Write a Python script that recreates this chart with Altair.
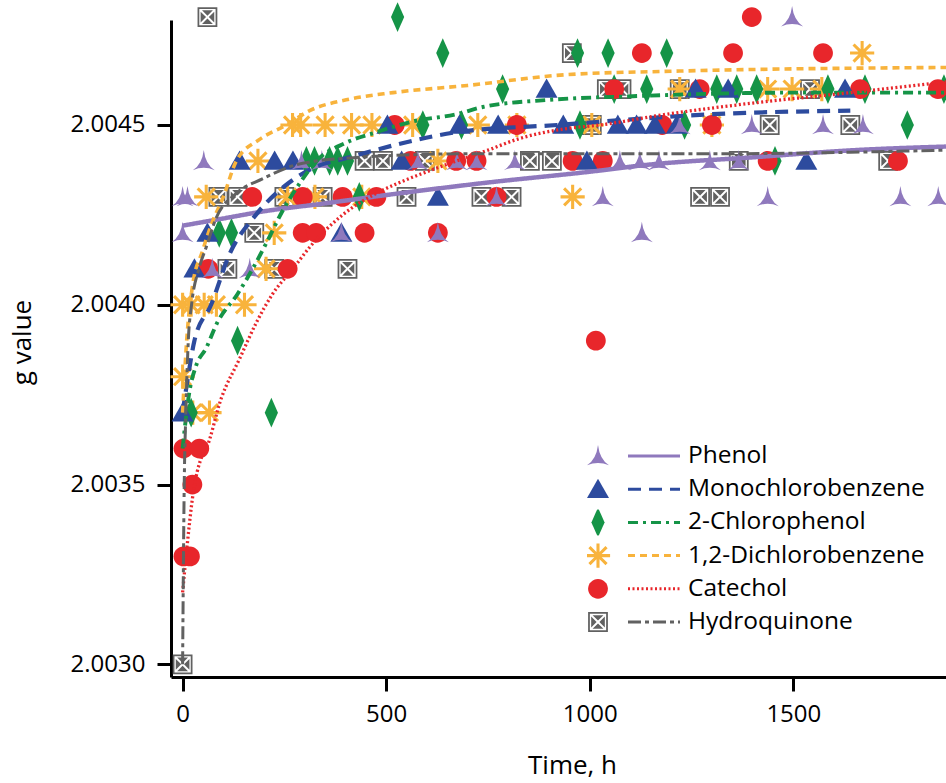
import math
import altair as alt
import pandas as pd

SERIES = ["Phenol", "Monochlorobenzene", "2-Chlorophenol", "1,2-Dichlorobenzene", "Catechol", "Hydroquinone"]
COLORS = ["#8F79BD", "#2D4B9E", "#159447", "#F8B33C", "#E8262B", "#616161"]

# ---- measured points ----
phenol_t = [0, 0, 12, 52, 73, 165, 292, 342, 390, 578, 627, 674, 722, 771, 816, 1032, 1074, 1123, 1128, 1170,
            1221, 1295, 1366, 1398, 1437, 1497, 1573, 1671, 1763, 1856]
phenol_g = [2.0042, 2.0043, 2.0043, 2.0044, 2.0041, 2.0041, 2.0044, 2.0044, 2.0042, 2.0044, 2.0042, 2.0044,
            2.0044, 2.0043, 2.0044, 2.0043, 2.0044, 2.0044, 2.0042, 2.0044, 2.0045, 2.0044, 2.0044, 2.0045,
            2.0043, 2.0048, 2.0045, 2.0045, 2.0043, 2.0043]

mono_t = [0, 29, 61, 140, 226, 271, 390, 503, 538, 627, 680, 775, 894, 935, 993, 1069, 1115, 1160, 1214,
          1260, 1340, 1532, 1627]
mono_g = [2.0037, 2.0041, 2.0042, 2.0044, 2.0044, 2.0044, 2.0042, 2.0045, 2.0044, 2.0043, 2.0045, 2.0045,
          2.0046, 2.0045, 2.0044, 2.0045, 2.0045, 2.0045, 2.0045, 2.0046, 2.0046, 2.0044, 2.0046]

chloro_t = [21, 90, 120, 135, 218, 304, 324, 361, 381, 405, 434, 528, 590, 639, 685, 786, 970, 976, 1045,
            1060, 1140, 1189, 1233, 1312, 1361, 1410, 1455, 1585, 1676, 1780, 1870]
chloro_g = [2.0037, 2.0042, 2.0042, 2.0039, 2.0037, 2.0044, 2.0044, 2.0044, 2.0044, 2.0044, 2.0043, 2.0048,
            2.0045, 2.0047, 2.0045, 2.0046, 2.0047, 2.0045, 2.0047, 2.0046, 2.0046, 2.0047, 2.0045, 2.0046,
            2.0046, 2.0046, 2.0044, 2.0046, 2.0046, 2.0045, 2.0046]

dcb_t = [0, 0, 21, 25, 53, 66, 83, 152, 58, 185, 205, 225, 258, 270, 290, 350, 415, 465, 565, 325, 440,
         627, 725, 821, 958, 1005, 1221, 1300, 1437, 1497, 1570, 1669]
dcb_g = [2.0038, 2.0040, 2.0040, 2.0037, 2.0040, 2.0037, 2.0040, 2.0040, 2.0043, 2.0044, 2.0041, 2.0042,
         2.0043, 2.0045, 2.0045, 2.0045, 2.0045, 2.0045, 2.0045, 2.0043, 2.0043, 2.0044, 2.0045, 2.0045,
         2.0043, 2.0045, 2.0046, 2.0045, 2.0046, 2.0046, 2.0046, 2.0047]

catechol_t = [2, 41, 24, 2, 18, 63, 171, 258, 295, 328, 295, 393, 447, 476, 521, 560, 627, 672, 722, 771,
              821, 958, 1015, 1032, 1060, 1128, 1178, 1270, 1300, 1352, 1398, 1437, 1573, 1664, 1757, 1855]
catechol_g = [2.0036, 2.0036, 2.0035, 2.0033, 2.0033, 2.0041, 2.0043, 2.0041, 2.0042, 2.0042, 2.0043, 2.0043,
              2.0042, 2.0043, 2.0045, 2.0044, 2.0042, 2.0044, 2.0044, 2.0043, 2.0045, 2.0044, 2.0039, 2.0044,
              2.0046, 2.0047, 2.0045, 2.0046, 2.0045, 2.0047, 2.0048, 2.0044, 2.0047, 2.0046, 2.0044, 2.0046]

hq_t = [0, 61, 88, 110, 135, 176, 225, 250, 344, 405, 447, 492, 550, 595, 734, 808, 853, 907, 956, 1005,
        1042, 1078, 1221, 1271, 1320, 1366, 1442, 1541, 1640, 1733]
hq_g = [2.0030, 2.0048, 2.0043, 2.0041, 2.0043, 2.0042, 2.0041, 2.0043, 2.0043, 2.0041, 2.0044, 2.0044,
        2.0043, 2.0044, 2.0043, 2.0043, 2.0044, 2.0044, 2.0047, 2.0045, 2.0046, 2.0046, 2.0046, 2.0043,
        2.0043, 2.0044, 2.0045, 2.0046, 2.0045, 2.0044]

# ---- fitted curves ----
phenol_fit_t = [0, 100, 200, 336, 533, 750, 1000, 1148, 1400, 1650, 1875]
phenol_fit_g = [2.00422, 2.00424, 2.00426, 2.00428, 2.00431, 2.00434, 2.00437, 2.00439, 2.00441, 2.00443, 2.00444]

mono_fit_t = [0, 12, 29, 70, 115, 180, 262, 320, 410, 542, 674, 920, 1300, 1640]
mono_fit_g = [2.0037, 2.00379, 2.0039, 2.0040, 2.00414, 2.00425, 2.00434, 2.00438, 2.00441, 2.00445,
              2.00448, 2.0045, 2.00453, 2.00454]

chloro_fit_t = [0, 17, 33, 58, 85, 135, 172, 205, 245, 295, 329, 400, 476, 566, 673, 737, 902, 1106, 1500, 1875]
chloro_fit_g = [2.0036, 2.00376, 2.00383, 2.00388, 2.00395, 2.00403, 2.0041, 2.00417, 2.00426, 2.00435,
                2.0044, 2.00445, 2.00448, 2.00451, 2.00453, 2.00455, 2.00457, 2.00458, 2.00459, 2.00459]

dcb_fit_t = [0, 10, 24, 49, 73, 100, 132, 189, 255, 312, 402, 517, 700, 943, 1221, 1875]
dcb_fit_g = [2.0037, 2.0039, 2.00405, 2.00415, 2.00423, 2.0043, 2.0044, 2.00446, 2.0045, 2.00454, 2.00457,
             2.00459, 2.00461, 2.00464, 2.00465, 2.00466]

catechol_fit_t = [0, 12, 24, 48, 58, 95, 140, 181, 221, 271, 312, 393, 476, 533, 600, 673, 750, 821, 943,
                  1025, 1189, 1393, 1640, 1875]
catechol_fit_g = [2.0032, 2.00334, 2.00346, 2.00358, 2.0036, 2.00374, 2.00385, 2.00395, 2.00403, 2.0041,
                  2.00416, 2.00425, 2.00431, 2.00434, 2.00437, 2.0044, 2.00443, 2.00446, 2.00449, 2.0045,
                  2.00453, 2.00456, 2.00459, 2.00462]

hq_fit_t = [0, 4, 8, 14, 22, 40, 58, 82, 132, 196, 281, 329, 434, 700, 1300, 1875]
hq_fit_g = [2.0030, 2.0035, 2.0037, 2.0039, 2.0040, 2.0041, 2.00416, 2.00424, 2.00431, 2.00435, 2.00439,
            2.0044, 2.00441, 2.00442, 2.00442, 2.00443]

X_TICKS = [0, 500, 1000, 1500]
Y_TICKS = [2.0030, 2.0035, 2.0040, 2.0045]

# ---- marker shapes (paths in unit box) ----
def asterisk(R=1.1, w=0.14):
    pts = []
    ri = w / math.sin(math.pi / 8)
    for k in range(8):
        th = k * math.pi / 4
        dx, dy = math.cos(th), math.sin(th)
        nx, ny = -dy, dx
        pts.append((R * dx - w * nx, R * dy - w * ny))
        pts.append((R * dx + w * nx, R * dy + w * ny))
        b = th + math.pi / 8
        pts.append((ri * math.cos(b), ri * math.sin(b)))
    return "M" + "L".join(f"{x:.3f},{y:.3f}" for x, y in pts) + "Z"

def xbox(o=0.9, h=0.74, e=0.62, g=0.09):
    a = round(g * math.sqrt(2), 3)
    b = round(e - a, 3)
    p = f"M{-o},{-o}L{o},{-o}L{o},{o}L{-o},{o}Z"
    p += f"M{-h},{-h}L{-h},{h}L{h},{h}L{h},{-h}Z"
    p += f"M{-b},{-e}L{b},{-e}L0,{-a}Z"
    p += f"M{e},{-b}L{e},{b}L{a},0Z"
    p += f"M{b},{e}L{-b},{e}L0,{a}Z"
    p += f"M{-e},{b}L{-e},{-b}L{-a},0Z"
    return p

SHAPES = [
    "M0,-1Q0.15,0.3 1,0.85Q0,0.4 -1,0.85Q-0.15,0.3 0,-1Z",
    "M0,-0.95L1,0.8L-1,0.8Z",
    "M0,-1.35L0.6,0L0,1.35L-0.6,0Z",
    asterisk(),
    "M0.9,0A0.9,0.9,0,1,1,-0.9,0A0.9,0.9,0,1,1,0.9,0Z",
    xbox(),
]
DASHES = [[1, 0], [13, 8], [10, 5, 3, 5], [7, 5], [2, 2.5], [13, 4, 4, 4]]
WIDTHS = [4.5, 3, 3, 3, 3, 3]

pt_sets = {
    "Phenol": (phenol_t, phenol_g), "Monochlorobenzene": (mono_t, mono_g),
    "2-Chlorophenol": (chloro_t, chloro_g), "1,2-Dichlorobenzene": (dcb_t, dcb_g),
    "Catechol": (catechol_t, catechol_g), "Hydroquinone": (hq_t, hq_g),
}
fit_sets = {
    "Phenol": (phenol_fit_t, phenol_fit_g), "Monochlorobenzene": (mono_fit_t, mono_fit_g),
    "2-Chlorophenol": (chloro_fit_t, chloro_fit_g), "1,2-Dichlorobenzene": (dcb_fit_t, dcb_fit_g),
    "Catechol": (catechol_fit_t, catechol_fit_g), "Hydroquinone": (hq_fit_t, hq_fit_g),
}
draw_order = ["Hydroquinone", "1,2-Dichlorobenzene", "2-Chlorophenol", "Catechol", "Monochlorobenzene", "Phenol"]
rows = []
for s in draw_order:
    for t, g in zip(*pt_sets[s]):
        rows.append({"series": s, "t": t, "g": g})
pts = pd.DataFrame(rows)
frows = []
for s in SERIES:
    for t, g in zip(*fit_sets[s]):
        frows.append({"series": s, "t": t, "g": g})
fit = pd.DataFrame(frows)

FONT = "Open Sans"
xscale = alt.Scale(domain=[-28.5, 1875], nice=False, zero=False)
yscale = alt.Scale(domain=[2.0029647, 2.004792], nice=False, zero=False)
xaxis = alt.Axis(values=X_TICKS, format="d", title="Time, h", labelPadding=11, titleX=401, titleY=88,
                 titleBaseline="middle", titleAlign="center", titleAnchor="middle")
yaxis = alt.Axis(values=Y_TICKS, format=".4f", title="g value", labelPadding=12,
                 titleX=-149, titleY=322, titleBaseline="middle", titleAlign="center", titleAngle=-90)

sym_legend = alt.Legend(orient="none", legendX=416, legendY=423, title=None, labelExpr="''",
                        symbolSize=484, clipHeight=26, rowPadding=7.2, padding=0,
                        symbolStrokeWidth=0, symbolOpacity=1)
line_legend = alt.Legend(orient="none", legendX=455.5, legendY=423, title=None,
                         symbolType="stroke", symbolSize=2704, symbolStrokeWidth=3, clipHeight=26,
                         rowPadding=7.2, padding=0, labelOffset=6.5, labelFontSize=24.5, labelFont=FONT,
                         labelColor="black", labelBaseline="middle", labelLimit=400)

cscale = alt.Scale(domain=SERIES, range=COLORS)

points = alt.Chart(pts).mark_point(filled=True, opacity=1, size=484, strokeWidth=0).encode(
    x=alt.X("t:Q", scale=xscale, axis=xaxis),
    y=alt.Y("g:Q", scale=yscale, axis=yaxis),
    color=alt.Color("series:N", scale=cscale, legend=sym_legend),
    shape=alt.Shape("series:N", scale=alt.Scale(domain=SERIES, range=SHAPES), legend=sym_legend),
)

lines = alt.Chart(fit).mark_line(interpolate="monotone").encode(
    x=alt.X("t:Q", scale=xscale, axis=xaxis),
    y=alt.Y("g:Q", scale=yscale, axis=yaxis),
    color=alt.Color("series:N", scale=cscale, legend=line_legend),
    strokeDash=alt.StrokeDash("series:N", scale=alt.Scale(domain=SERIES, range=DASHES), legend=line_legend),
    strokeWidth=alt.StrokeWidth("series:N", scale=alt.Scale(domain=SERIES, range=WIDTHS), legend=None),
)

chart = alt.layer(points, lines).resolve_legend(
    color="independent", shape="independent", strokeDash="independent"
).properties(
    width=775, height=657,
    autosize=alt.AutoSizeParams(type="none"),
    padding={"left": 171, "top": 20, "right": 0, "bottom": 106},
).configure_view(stroke=None).configure_axis(
    grid=False, domainColor="black", domainWidth=3, tickColor="black", tickWidth=3, tickSize=14,
    labelFont=FONT, labelFontSize=24, labelColor="black", titleFont=FONT, titleFontSize=26,
    titleColor="black", titleFontWeight="normal",
)

chart.save("out.html", embed_options={"renderer": "svg", "actions": False})
